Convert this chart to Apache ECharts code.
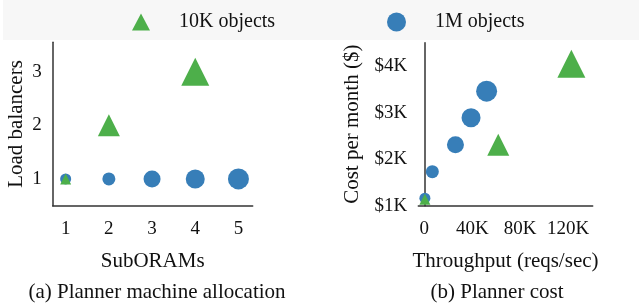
<!DOCTYPE html>
<html>
<head>
<meta charset="utf-8">
<title>Planner</title>
<script src="https://cdn.jsdelivr.net/npm/echarts@6/dist/echarts.min.js"></script>
<style>
  html, body { margin: 0; padding: 0; background: #fff; }
  #main { width: 639px; height: 304px; }
</style>
</head>
<body>
<div id="main"></div>
<script>
// data
var subORAMs1M = [1, 2, 3, 4, 5];
var lb1M = [1, 1, 1, 1, 1];
var subORAMs10K = [1, 2, 4];
var lb10K = [1, 2, 3];

var tput1M = [500, 6700, 26000, 39000, 52000];
var cost1M = [1160, 1730, 2310, 2890, 3460];
var tput10K = [500, 61700, 122700];
var cost10K = [1140, 2310, 4050];

var xTicksA = [1, 2, 3, 4, 5];
var yTicksA = [1, 2, 3];
var xTicksB = [0, 40000, 80000, 120000];
var yTicksB = [1000, 2000, 3000, 4000];

// marker sizes (style)
var size1M = [11, 13, 17, 19, 21];
var size10K = [11, 22, 28];

var BLUE = "#377eb8";
var GREEN = "#4daf4a";
var FONT = "Liberation Serif";

function pts(xs, ys) {
  return xs.map(function (x, i) { return [x, ys[i], i]; });
}
function kLabel(v) {
  return v === 0 ? "0" : v / 1000 + "K";
}

var axisLine = { show: true, lineStyle: { color: "#333", width: 1.5 } };
var lbl = { color: "#111", fontFamily: FONT, fontSize: 19 };
var big = { color: "#111", fontFamily: FONT, fontSize: 21 };

var chart = echarts.init(document.getElementById("main"));
chart.setOption({
  animation: false,
  textStyle: { fontFamily: FONT },
  graphic: [
    { type: "rect", z: -10, shape: { x: 3, y: 0, width: 636, height: 40 }, style: { fill: "#f7f7f7" } }
  ],
  legend: [
    {
      data: ["10K objects"], left: 127, top: 7, itemWidth: 18, itemHeight: 17,
      textStyle: { color: "#111", fontFamily: FONT, fontSize: 20, padding: [0, 0, 0, 24] }
    },
    {
      data: ["1M objects"], left: 382, top: 7, itemWidth: 19, itemHeight: 19,
      textStyle: { color: "#111", fontFamily: FONT, fontSize: 20, padding: [0, 0, 0, 24] }
    }
  ],
  title: [
    { text: "(a) Planner machine allocation", left: 152, top: 277, textAlign: "center",
      textStyle: { color: "#111", fontFamily: FONT, fontSize: 21, fontWeight: "normal" } },
    { text: "(b) Planner cost", left: 492, top: 277, textAlign: "center",
      textStyle: { color: "#111", fontFamily: FONT, fontSize: 21, fontWeight: "normal" } }
  ],
  grid: [
    { left: 52.7, top: 42.3, width: 200, height: 163.4 },
    { left: 418.3, top: 42.7, width: 174.4, height: 163 }
  ],
  xAxis: [
    {
      gridIndex: 0, type: "value", min: 0.7, max: 5.33,
      name: "SubORAMs", nameLocation: "middle", nameGap: 45,
      nameTextStyle: big,
      axisLine: axisLine, axisTick: { show: false }, splitLine: { show: false },
      axisLabel: Object.assign({ margin: 14, customValues: xTicksA }, lbl)
    },
    {
      gridIndex: 1, type: "value", min: -5000, max: 140500,
      name: "Throughput (reqs/sec)", nameLocation: "middle", nameGap: 45,
      nameTextStyle: big,
      axisLine: axisLine, axisTick: { show: false }, splitLine: { show: false },
      axisLabel: Object.assign({ margin: 14, customValues: xTicksB, formatter: kLabel }, lbl)
    }
  ],
  yAxis: [
    {
      gridIndex: 0, type: "value", min: 0.5, max: 3.55,
      name: "Load balancers", nameLocation: "middle", nameRotate: 90, nameGap: 26,
      nameTextStyle: big,
      axisLine: axisLine, axisTick: { show: false }, splitLine: { show: false },
      axisLabel: Object.assign({ margin: 11, customValues: yTicksA }, lbl)
    },
    {
      gridIndex: 1, type: "value", min: 1000, max: 4500,
      name: "Cost per month ($)", nameLocation: "middle", nameRotate: 90, nameGap: 55,
      nameTextStyle: big,
      axisLine: axisLine, axisTick: { show: false }, splitLine: { show: false },
      axisLabel: Object.assign({ margin: 11, customValues: yTicksB,
        formatter: function (v) { return "$" + v / 1000 + "K"; } }, lbl)
    }
  ],
  series: [
    {
      name: "1M objects", type: "scatter", xAxisIndex: 0, yAxisIndex: 0,
      symbol: "circle", itemStyle: { color: BLUE, opacity: 1 },
      symbolSize: function (d) { return size1M[d[2]]; },
      data: pts(subORAMs1M, lb1M)
    },
    {
      name: "10K objects", type: "scatter", xAxisIndex: 0, yAxisIndex: 0,
      symbol: "triangle", itemStyle: { color: GREEN, opacity: 1 },
      symbolSize: function (d) { return size10K[d[2]]; },
      data: pts(subORAMs10K, lb10K)
    },
    {
      name: "1M objects", type: "scatter", xAxisIndex: 1, yAxisIndex: 1,
      symbol: "circle", itemStyle: { color: BLUE, opacity: 1 },
      symbolSize: function (d) { return size1M[d[2]]; },
      data: pts(tput1M, cost1M)
    },
    {
      name: "10K objects", type: "scatter", xAxisIndex: 1, yAxisIndex: 1,
      symbol: "triangle", itemStyle: { color: GREEN, opacity: 1 },
      symbolSize: function (d) { return size10K[d[2]]; },
      data: pts(tput10K, cost10K)
    }
  ]
});
</script>
</body>
</html>
